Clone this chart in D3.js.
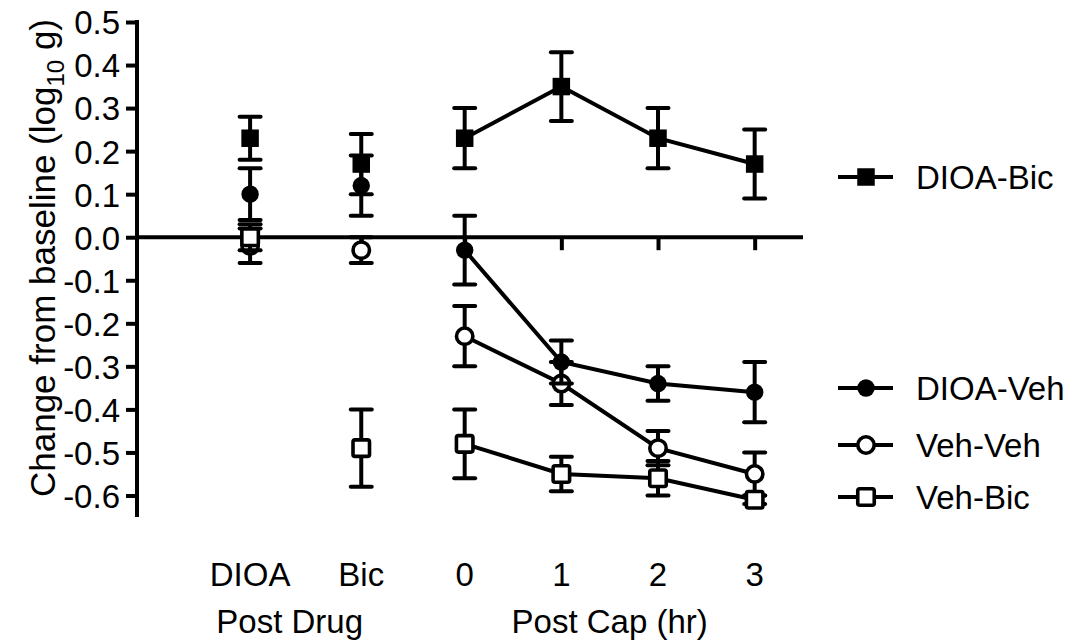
<!DOCTYPE html>
<html>
<head>
<meta charset="utf-8">
<script src="https://cdn.jsdelivr.net/npm/d3@7"></script>
<style>
  body { margin: 0; background: #fff; }
  text { font-family: "Liberation Sans", Arial, sans-serif; fill: #000; }
</style>
</head>
<body>
<div id="chart"></div>
<script>
// category labels and where they sit on the x scale (post cap hours, drug steps before 0)
var xLabels = ["DIOA", "Bic", "0", "1", "2", "3"];
var xPos = [-2.22, -1.07, 0, 1, 2, 3];

var yTicks = [-0.6, -0.5, -0.4, -0.3, -0.2, -0.1, 0.0, 0.1, 0.2, 0.3, 0.4, 0.5];

// means and SEM, one value per category
var dioaBic = [0.23, 0.17, 0.23, 0.35, 0.23, 0.17];
var dioaBicErr = [0.05, 0.07, 0.07, 0.08, 0.07, 0.08];
var dioaVeh = [0.10, 0.12, -0.03, -0.29, -0.34, -0.36];
var dioaVehErr = [0.06, 0.07, 0.08, 0.05, 0.04, 0.07];
var vehVeh = [-0.02, -0.03, -0.23, -0.34, -0.49, -0.55];
var vehVehErr = [0.04, 0.03, 0.07, 0.05, 0.04, 0.05];
var vehBic = [0.00, -0.49, -0.48, -0.55, -0.56, -0.61];
var vehBicErr = [0.03, 0.09, 0.08, 0.04, 0.04, 0.01];

var seriesNames = ["DIOA-Bic", "DIOA-Veh", "Veh-Veh", "Veh-Bic"];

var w = 1073;
var h = 643;
var sw = 4;

const svg = d3.select("#chart")
    .append("svg")
    .attr("width", w)
    .attr("height", h);

var x = d3.scaleLinear().domain([-3.39, 3.5]).range([137, 803]);
var y = d3.scaleLinear().domain([-0.65, 0.5]).range([517, 22]);

// series setup: marker type + fill, drawn in this order
var series = [
    { name: "Veh-Veh", vals: vehVeh, err: vehVehErr, shape: "circle", fill: "#fff" },
    { name: "Veh-Bic", vals: vehBic, err: vehBicErr, shape: "square", fill: "#fff" },
    { name: "DIOA-Veh", vals: dioaVeh, err: dioaVehErr, shape: "circle", fill: "#000" },
    { name: "DIOA-Bic", vals: dioaBic, err: dioaBicErr, shape: "square", fill: "#000" }
];

//Y AXIS
var yAxis = svg.append("g")
    .attr("transform", "translate(137,0)")
    .call(d3.axisLeft(y)
        .tickValues(yTicks)
        .tickSize(11)
        .tickPadding(6)
        .tickFormat(function(d){ return d.toFixed(1); }));
yAxis.select(".domain").attr("stroke-width", sw).attr("d", "M0,20V517");
yAxis.selectAll(".tick line").attr("stroke-width", sw);
yAxis.selectAll(".tick text")
    .style("font-size", "33px")
    .attr("dy", "0.36em");

//X AXIS ALONG ZERO
var xAxis = svg.append("g")
    .attr("transform", "translate(0," + y(0) + ")")
    .call(d3.axisBottom(x)
        .tickValues(xPos)
        .tickSize(13)
        .tickFormat(""));
xAxis.select(".domain").attr("stroke-width", sw).attr("d", "M135,0H803");
xAxis.selectAll(".tick line").attr("stroke-width", sw);

//CATEGORY LABELS AT THE BOTTOM
svg.append("g").selectAll("text")
    .data(xLabels)
    .enter()
    .append("text")
    .attr("x", function(d, i){ return x(xPos[i]); })
    .attr("y", 586)
    .attr("text-anchor", "middle")
    .style("font-size", "33px")
    .text(function(d){ return d; });

svg.append("text")
    .attr("x", d3.mean([x(xPos[0]), x(xPos[1])]) - 16)
    .attr("y", 633)
    .attr("text-anchor", "middle")
    .style("font-size", "33px")
    .text("Post Drug");

svg.append("text")
    .attr("x", d3.mean([x(xPos[2]), x(xPos[5])]))
    .attr("y", 633)
    .attr("text-anchor", "middle")
    .style("font-size", "33px")
    .text("Post Cap (hr)");

//Y TITLE
var yTitle = svg.append("text")
    .attr("transform", "translate(55,258) rotate(-90)")
    .attr("text-anchor", "middle")
    .style("font-size", "35px");
yTitle.append("tspan").text("Change from baseline (log");
yTitle.append("tspan").attr("dy", 9).style("font-size", "24px").text("10");
yTitle.append("tspan").attr("dy", -9).text(" g)");

//MARKER DRAWING
function drawMarker(g, shape, fill, cx, cy){
    var open = fill !== "#000";
    if (shape === "circle") {
        g.append("circle")
            .attr("cx", cx)
            .attr("cy", cy)
            .attr("r", open ? 8.2 : 8.7)
            .attr("fill", fill)
            .attr("stroke", "#000")
            .attr("stroke-width", open ? 3.6 : 0);
    } else {
        var s = open ? 16.5 : 17.5;
        g.append("rect")
            .attr("x", cx - s / 2)
            .attr("y", cy - s / 2)
            .attr("width", s)
            .attr("height", s)
            .attr("rx", open ? 2 : 0)
            .attr("fill", fill)
            .attr("stroke", "#000")
            .attr("stroke-width", open ? 3.6 : 0);
    }
}

var line = d3.line()
    .x(function(d){ return x(d[0]); })
    .y(function(d){ return y(d[1]); });

series.forEach(function(s){
    var g = svg.append("g");
    // error bars
    s.vals.forEach(function(v, i){
        var cx = x(xPos[i]);
        g.append("line")
            .attr("x1", cx).attr("x2", cx)
            .attr("y1", y(v - s.err[i])).attr("y2", y(v + s.err[i]))
            .attr("stroke", "#000").attr("stroke-width", sw);
        [v - s.err[i], v + s.err[i]].forEach(function(e){
            g.append("line")
                .attr("x1", cx - 10.5).attr("x2", cx + 10.5)
                .attr("y1", y(e)).attr("y2", y(e))
                .attr("stroke", "#000").attr("stroke-width", sw)
                .attr("stroke-linecap", "round");
        });
    });
    // connecting line only across the post cap points
    var pts = [];
    for (let i = 2; i < s.vals.length; i++) pts.push([xPos[i], s.vals[i]]);
    g.append("path")
        .attr("d", line(pts))
        .attr("fill", "none")
        .attr("stroke", "#000")
        .attr("stroke-width", sw);
    s.vals.forEach(function(v, i){
        drawMarker(g, s.shape, s.fill, x(xPos[i]), y(v));
    });
});

//LEGEND
var legendY = [189, 400, 457, 509];
seriesNames.forEach(function(name, i){
    var s = series.filter(function(d){ return d.name === name; })[0];
    var ly = legendY[i] - 12;
    var g = svg.append("g");
    g.append("line")
        .attr("x1", 838).attr("x2", 893)
        .attr("y1", ly).attr("y2", ly)
        .attr("stroke", "#000").attr("stroke-width", sw);
    drawMarker(g, s.shape, s.fill, 866, ly);
    g.append("text")
        .attr("x", 916)
        .attr("y", legendY[i])
        .style("font-size", "33px")
        .text(name);
});
</script>
</body>
</html>
